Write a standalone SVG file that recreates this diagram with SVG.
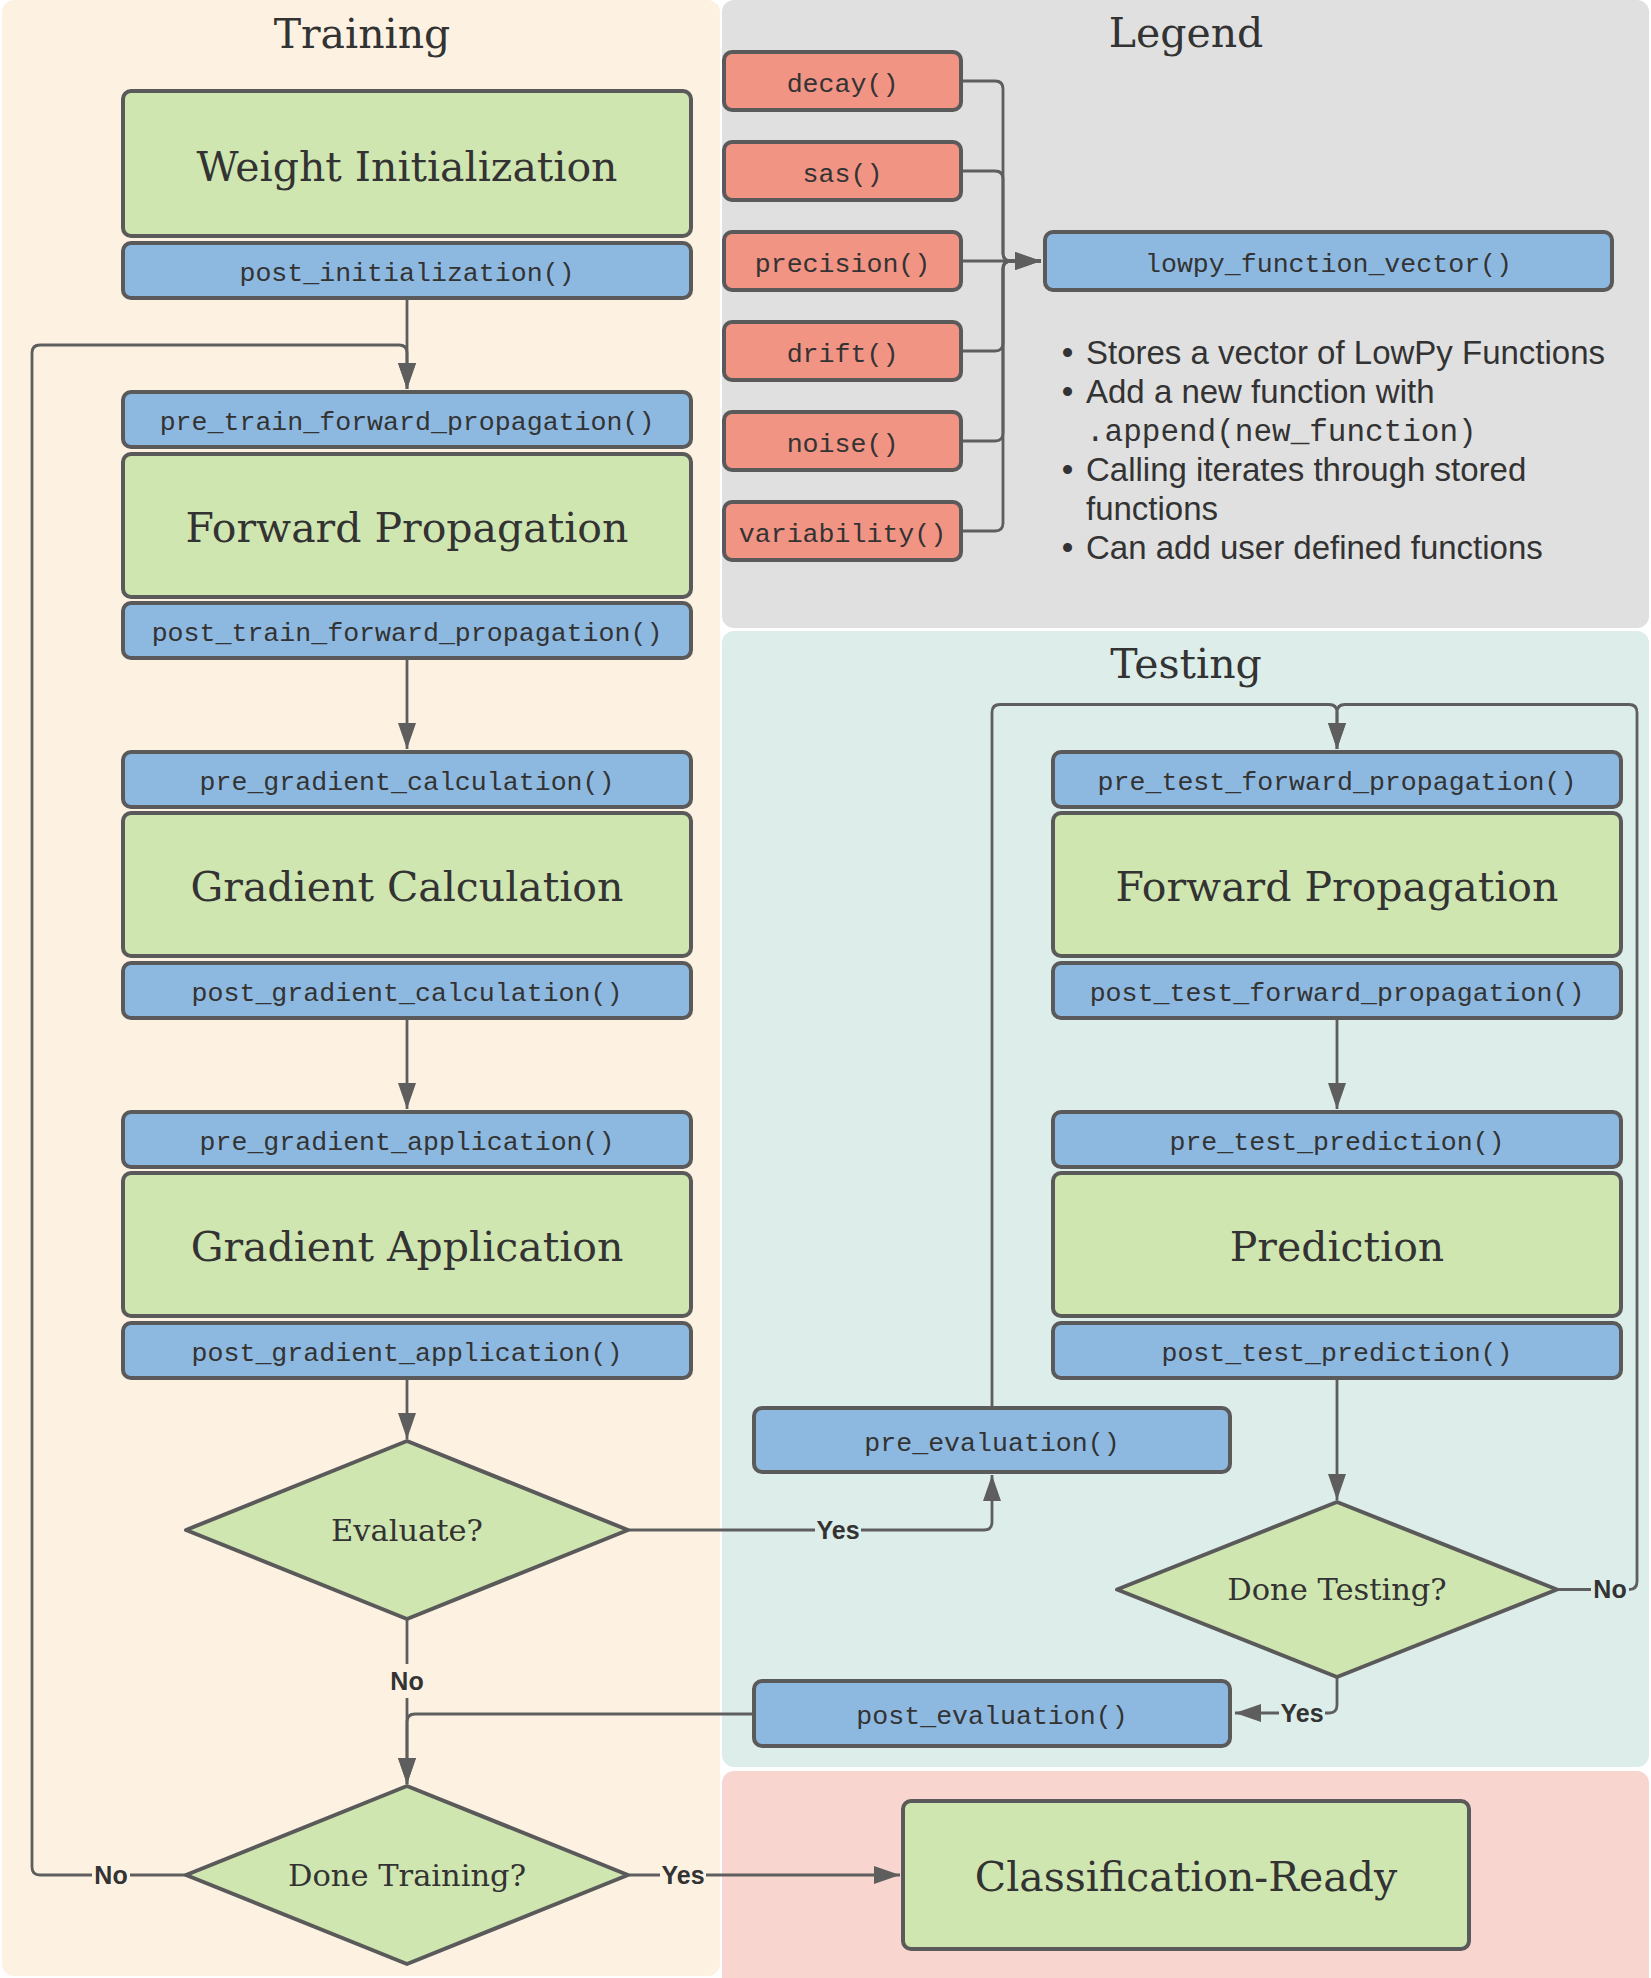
<svg xmlns="http://www.w3.org/2000/svg" width="1651" height="1978" viewBox="0 0 1651 1978">
<style>
.panel{stroke:none}
.g{fill:#D0E6B1;stroke:#5A5A5A;stroke-width:4}
.b{fill:#8DB9E1;stroke:#5A5A5A;stroke-width:4}
.r{fill:#F19484;stroke:#5A5A5A;stroke-width:4}
.d{fill:#D0E6B1;stroke:#5A5A5A;stroke-width:4;stroke-linejoin:round}
.serif{font-family:"DejaVu Serif","Liberation Serif",serif;fill:#333333;text-anchor:middle}
.title{font-size:41px}
.big{font-size:41px}
.dia{font-size:30.5px}
.mono{font-family:"Liberation Mono","DejaVu Sans Mono",monospace;font-size:26.6px;fill:#333333;text-anchor:middle}
.sans{font-family:"Liberation Sans",Arial,sans-serif;font-size:33px;fill:#333333}
.monoL{font-family:"Liberation Mono","DejaVu Sans Mono",monospace;font-size:31px;fill:#333333}
.lbl{font-family:"Liberation Sans",Arial,sans-serif;font-size:25px;font-weight:bold;fill:#333333;text-anchor:middle}
.c{fill:none;stroke:#5E5E5E;stroke-width:2.8}
</style>
<defs>
<marker id="ah" markerUnits="userSpaceOnUse" markerWidth="26" markerHeight="18" refX="26" refY="9" orient="auto">
<path d="M0,0 L26,9 L0,18 Z" fill="#5E5E5E"/>
</marker>
</defs>
<rect width="1651" height="1978" fill="#FFFFFF"/>
<g id="panels">
<rect class="panel" x="2" y="0" width="718" height="1976" rx="12" fill="#FDF2E2"/>
<rect class="panel" x="722" y="0" width="927" height="628" rx="12" fill="#E0E0E0"/>
<rect class="panel" x="722" y="631" width="927" height="1136" rx="12" fill="#DDEEEA"/>
<rect class="panel" x="722" y="1771" width="927" height="1205" rx="12" fill="#F8D5CF"/>
<text class="serif title" x="362" y="48">Training</text>
<text class="serif title" x="1186" y="47">Legend</text>
<text class="serif title" x="1186" y="678">Testing</text>
</g>
<g id="connectors">
<path class="c" d="M963,81 H995 Q1003,81 1003,89 V253 Q1003,261 1011,261 H1041" marker-end="url(#ah)"/>
<path class="c" d="M963,171 H995 Q1003,171 1003,179 V253 Q1003,261 1011,261 H1041"/>
<path class="c" d="M963,261 H1041" marker-end="url(#ah)"/>
<path class="c" d="M963,351 H995 Q1003,351 1003,343 V269 Q1003,261 1011,261 H1041"/>
<path class="c" d="M963,441 H995 Q1003,441 1003,433 V269 Q1003,261 1011,261 H1041"/>
<path class="c" d="M963,531 H995 Q1003,531 1003,523 V269 Q1003,261 1011,261 H1041"/>
<path class="c" d="M407,300 V389" marker-end="url(#ah)"/>
<path class="c" d="M186,1875 H40 Q32,1875 32,1867 V353 Q32,345 40,345 H399 Q407,345 407,353 V389" marker-end="url(#ah)"/>
<path class="c" d="M407,660 V749" marker-end="url(#ah)"/>
<path class="c" d="M407,1020 V1109" marker-end="url(#ah)"/>
<path class="c" d="M407,1380 V1439" marker-end="url(#ah)"/>
<path class="c" d="M629,1530 H984 Q992,1530 992,1522 V1475" marker-end="url(#ah)"/>
<path class="c" d="M407,1620 V1784" marker-end="url(#ah)"/>
<path class="c" d="M752,1714 H415 Q407,1714 407,1722 V1784" marker-end="url(#ah)"/>
<path class="c" d="M629,1875 H900" marker-end="url(#ah)"/>
<path class="c" d="M992,1406 V712.5 Q992,704.5 1000,704.5 H1329 Q1337,704.5 1337,712.5 V749" marker-end="url(#ah)"/>
<path class="c" d="M1558,1589.5 H1629 Q1637,1589.5 1637,1581.5 V712.5 Q1637,704.5 1629,704.5 H1345 Q1337,704.5 1337,712.5 V749" marker-end="url(#ah)"/>
<path class="c" d="M1337,1020 V1109" marker-end="url(#ah)"/>
<path class="c" d="M1337,1380 V1500" marker-end="url(#ah)"/>
<path class="c" d="M1337,1678 V1705 Q1337,1713 1329,1713 H1235" marker-end="url(#ah)"/>
</g>
<g id="labels">
<rect x="388" y="1664" width="38" height="34" fill="#FDF2E2"/>
<text class="lbl" x="407" y="1690">No</text>
<rect x="92" y="1860" width="38" height="30" fill="#FDF2E2"/>
<text class="lbl" x="111" y="1884">No</text>
<rect x="660" y="1860" width="46" height="30" fill="#FDF2E2"/>
<text class="lbl" x="683" y="1884">Yes</text>
<rect x="815" y="1515" width="46" height="30" fill="#DDEEEA"/>
<text class="lbl" x="838" y="1539">Yes</text>
<rect x="1591" y="1575" width="38" height="30" fill="#DDEEEA"/>
<text class="lbl" x="1610" y="1598">No</text>
<rect x="1279" y="1698" width="46" height="30" fill="#DDEEEA"/>
<text class="lbl" x="1302" y="1722">Yes</text>
</g>
<g id="legend-decay"><rect class="r" x="724" y="52" width="237" height="58" rx="8"/><text class="mono" x="842.5" y="91.5">decay()</text></g>
<g id="legend-sas"><rect class="r" x="724" y="142" width="237" height="58" rx="8"/><text class="mono" x="842.5" y="181.5">sas()</text></g>
<g id="legend-precision"><rect class="r" x="724" y="232" width="237" height="58" rx="8"/><text class="mono" x="842.5" y="271.5">precision()</text></g>
<g id="legend-drift"><rect class="r" x="724" y="322" width="237" height="58" rx="8"/><text class="mono" x="842.5" y="361.5">drift()</text></g>
<g id="legend-noise"><rect class="r" x="724" y="412" width="237" height="58" rx="8"/><text class="mono" x="842.5" y="451.5">noise()</text></g>
<g id="legend-variability"><rect class="r" x="724" y="502" width="237" height="58" rx="8"/><text class="mono" x="842.5" y="541.5">variability()</text></g>
<g id="legend-vector"><rect class="b" x="1045" y="232" width="567" height="58" rx="8"/><text class="mono" x="1328.5" y="271.5">lowpy_function_vector()</text></g>
<g id="legend-notes">
<text class="sans" x="1067.5" y="364" text-anchor="middle">•</text><text class="sans" x="1086" y="364">Stores a vector of LowPy Functions</text>
<text class="sans" x="1067.5" y="403" text-anchor="middle">•</text><text class="sans" x="1086" y="403">Add a new function with</text>
<text class="monoL" x="1086" y="441">.append(new_function)</text>
<text class="sans" x="1067.5" y="481" text-anchor="middle">•</text><text class="sans" x="1086" y="481">Calling iterates through stored</text>
<text class="sans" x="1086" y="520">functions</text>
<text class="sans" x="1067.5" y="559" text-anchor="middle">•</text><text class="sans" x="1086" y="559">Can add user defined functions</text>
</g>
<g id="weight-init"><rect class="g" x="123" y="91" width="568" height="145" rx="8"/><text class="serif big" x="407" y="180.5">Weight Initialization</text></g>
<g id="post-init"><rect class="b" x="123" y="243" width="568" height="55" rx="8"/><text class="mono" x="407" y="281">post_initialization()</text></g>
<g id="pre-train-fp"><rect class="b" x="123" y="392" width="568" height="55" rx="8"/><text class="mono" x="407" y="430">pre_train_forward_propagation()</text></g>
<g id="train-fp"><rect class="g" x="123" y="454" width="568" height="143" rx="8"/><text class="serif big" x="407" y="541.5">Forward Propagation</text></g>
<g id="post-train-fp"><rect class="b" x="123" y="603" width="568" height="55" rx="8"/><text class="mono" x="407" y="641">post_train_forward_propagation()</text></g>
<g id="pre-grad-calc"><rect class="b" x="123" y="752" width="568" height="55" rx="8"/><text class="mono" x="407" y="790">pre_gradient_calculation()</text></g>
<g id="grad-calc"><rect class="g" x="123" y="813" width="568" height="143" rx="8"/><text class="serif big" x="407" y="900.5">Gradient Calculation</text></g>
<g id="post-grad-calc"><rect class="b" x="123" y="963" width="568" height="55" rx="8"/><text class="mono" x="407" y="1001">post_gradient_calculation()</text></g>
<g id="pre-grad-app"><rect class="b" x="123" y="1112" width="568" height="55" rx="8"/><text class="mono" x="407" y="1150">pre_gradient_application()</text></g>
<g id="grad-app"><rect class="g" x="123" y="1173" width="568" height="143" rx="8"/><text class="serif big" x="407" y="1260.5">Gradient Application</text></g>
<g id="post-grad-app"><rect class="b" x="123" y="1323" width="568" height="55" rx="8"/><text class="mono" x="407" y="1361">post_gradient_application()</text></g>
<g id="evaluate"><polygon class="d" points="407,1441 628,1530 407,1619 186,1530"/><text class="serif dia" x="407" y="1540.5">Evaluate?</text></g>
<g id="done-training"><polygon class="d" points="407,1786 628,1875 407,1964 186,1875"/><text class="serif dia" x="407" y="1885.5">Done Training?</text></g>
<g id="pre-test-fp"><rect class="b" x="1053" y="752" width="568" height="55" rx="8"/><text class="mono" x="1337" y="790">pre_test_forward_propagation()</text></g>
<g id="test-fp"><rect class="g" x="1053" y="813" width="568" height="143" rx="8"/><text class="serif big" x="1337" y="900.5">Forward Propagation</text></g>
<g id="post-test-fp"><rect class="b" x="1053" y="963" width="568" height="55" rx="8"/><text class="mono" x="1337" y="1001">post_test_forward_propagation()</text></g>
<g id="pre-test-pred"><rect class="b" x="1053" y="1112" width="568" height="55" rx="8"/><text class="mono" x="1337" y="1150">pre_test_prediction()</text></g>
<g id="prediction"><rect class="g" x="1053" y="1173" width="568" height="143" rx="8"/><text class="serif big" x="1337" y="1260.5">Prediction</text></g>
<g id="post-test-pred"><rect class="b" x="1053" y="1323" width="568" height="55" rx="8"/><text class="mono" x="1337" y="1361">post_test_prediction()</text></g>
<g id="pre-eval"><rect class="b" x="754" y="1408" width="476" height="64" rx="8"/><text class="mono" x="992" y="1450.5">pre_evaluation()</text></g>
<g id="done-testing"><polygon class="d" points="1337,1502 1557,1589.5 1337,1677 1117,1589.5"/><text class="serif dia" x="1337" y="1600">Done Testing?</text></g>
<g id="post-eval"><rect class="b" x="754" y="1681" width="476" height="65" rx="8"/><text class="mono" x="992" y="1724">post_evaluation()</text></g>
<g id="classification-ready"><rect class="g" x="903" y="1801" width="566" height="148" rx="8"/><text class="serif big" x="1186" y="1891">Classification-Ready</text></g>
</svg>
